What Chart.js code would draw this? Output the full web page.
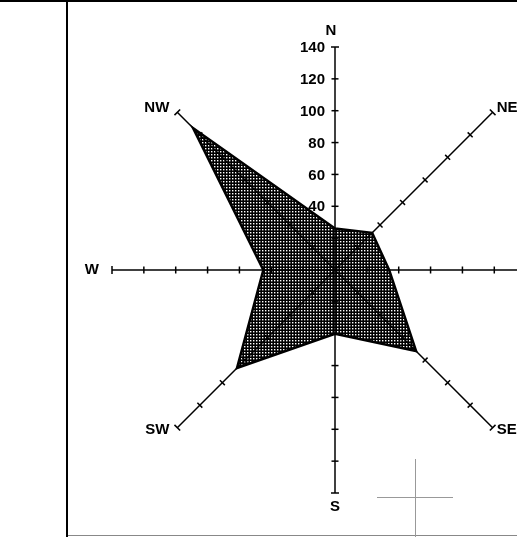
<!DOCTYPE html>
<html>
<head>
<meta charset="utf-8">
<script src="https://cdn.jsdelivr.net/npm/chart.js@4/dist/chart.umd.min.js"></script>
<style>
  html, body { margin: 0; padding: 0; background: #fff; overflow: hidden; }
  #wrap { position: relative; width: 517px; height: 537px; }
  canvas { position: absolute; left: 0; top: 0; }
  .frameTop { position: absolute; left: 0; top: 0; width: 517px; height: 0; border-top: 2px solid #000; }
  .frameLeft { position: absolute; left: 66px; top: 0; width: 0; height: 537px; border-left: 2px solid #000; }
  .frameBottom { position: absolute; left: 68px; top: 535px; width: 449px; height: 0; border-top: 1px solid #888; }
  .cursorH { position: absolute; left: 377px; top: 497px; width: 76px; height: 0; border-top: 1px solid #999; }
  .cursorV { position: absolute; left: 415px; top: 459px; width: 0; height: 78px; border-left: 1px solid #999; }
</style>
</head>
<body>
<div id="wrap">
  <canvas id="c" width="517" height="537"></canvas>
  <div class="frameTop"></div>
  <div class="frameLeft"></div>
  <div class="frameBottom"></div>
  <div class="cursorH"></div>
  <div class="cursorV"></div>
</div>
<script>
// ---- data ----
const directions = ['N', 'NE', 'E', 'SE', 'S', 'SW', 'W', 'NW'];
const windValues = [26, 33, 34, 72, 40, 87, 45, 126];
const tickValues = [20, 40, 60, 80, 100, 120, 140];
const axisMin = 0;
const axisMax = 140;

// ---- fill pattern (crosshatch grid) ----
function makePattern() {
  const p = document.createElement('canvas');
  p.width = 3; p.height = 3;
  const g = p.getContext('2d');
  g.fillStyle = 'rgba(0,0,0,0.6)';
  g.fillRect(0, 2, 3, 1);
  g.fillRect(2, 0, 1, 3);
  g.fillStyle = '#000';
  g.fillRect(0, 0, 3, 1);
  g.fillRect(0, 0, 1, 3);
  return document.getElementById('c').getContext('2d').createPattern(p, 'repeat');
}

const FONT = 'bold 15px "Liberation Sans", Arial, sans-serif';

const axisDecor = {
  id: 'axisDecor',
  beforeDatasetsDraw(chart) {
    const s = chart.scales.r;
    const ctx = chart.ctx;
    ctx.save();
    ctx.strokeStyle = '#000';
    ctx.lineWidth = 1.5;
    const n = directions.length;
    for (let i = 0; i < n; i++) {
      const ang = s.getIndexAngle(i) - Math.PI / 2;
      const px = -Math.sin(ang), py = Math.cos(ang);
      tickValues.forEach(v => {
        const d = s.getDistanceFromCenterForValue(v);
        const p = s.getPointPosition(i, d);
        const h = v === axisMax ? 4 : 3.5;
        ctx.beginPath();
        ctx.moveTo(p.x - px * h, p.y - py * h);
        ctx.lineTo(p.x + px * h, p.y + py * h);
        ctx.stroke();
      });
    }
    ctx.restore();
  },
  afterDraw(chart) {
    const s = chart.scales.r;
    const ctx = chart.ctx;
    ctx.save();
    ctx.fillStyle = '#000';
    ctx.font = FONT;
    // tick labels along the N axis
    ctx.textAlign = 'right';
    ctx.textBaseline = 'middle';
    tickValues.forEach(v => {
      if (v < 40) return;
      const p = s.getPointPositionForValue(0, v);
      ctx.fillText(String(v), p.x - 10, p.y + 1);
    });
    // direction labels
    const R = s.getDistanceFromCenterForValue(axisMax);
    directions.forEach((lab, i) => {
      const p = s.getPointPosition(i, R);
      const dx = p.x - s.xCenter, dy = p.y - s.yCenter;
      let x = p.x, y = p.y;
      if (Math.abs(dx) < 1) {
        ctx.textAlign = 'center';
        if (dy < 0) { x -= 4; y -= 16; } else { y += 14; }
      } else if (Math.abs(dy) < 1) {
        if (dx < 0) { ctx.textAlign = 'right'; x -= 13; } else { ctx.textAlign = 'left'; x += 13; }
      } else {
        if (dx < 0) { ctx.textAlign = 'right'; x -= 8; } else { ctx.textAlign = 'left'; x += 4; }
        y += dy < 0 ? -4 : 2;
      }
      ctx.textBaseline = 'middle';
      ctx.fillText(lab, x, y);
    });
    ctx.restore();
  }
};

new Chart(document.getElementById('c'), {
  type: 'radar',
  data: {
    labels: directions,
    datasets: [{
      data: windValues,
      backgroundColor: makePattern(),
      borderColor: '#000',
      borderWidth: 2.5,
      pointRadius: 0,
      fill: true,
      tension: 0
    }]
  },
  options: {
    responsive: false,
    animation: false,
    events: [],
    plugins: { legend: { display: false }, tooltip: { enabled: false } },
    layout: { padding: 0 },
    scales: {
      r: {
        min: axisMin,
        max: axisMax,
        ticks: { display: false, stepSize: 20 },
        grid: { display: false },
        pointLabels: { display: false },
        angleLines: { display: true, color: '#000', lineWidth: 1.5 },
        afterFit(scale) {
          scale.xCenter = 335;
          scale.yCenter = 270;
          scale.drawingArea = 223;
        }
      }
    }
  },
  plugins: [axisDecor]
});
</script>
</body>
</html>
